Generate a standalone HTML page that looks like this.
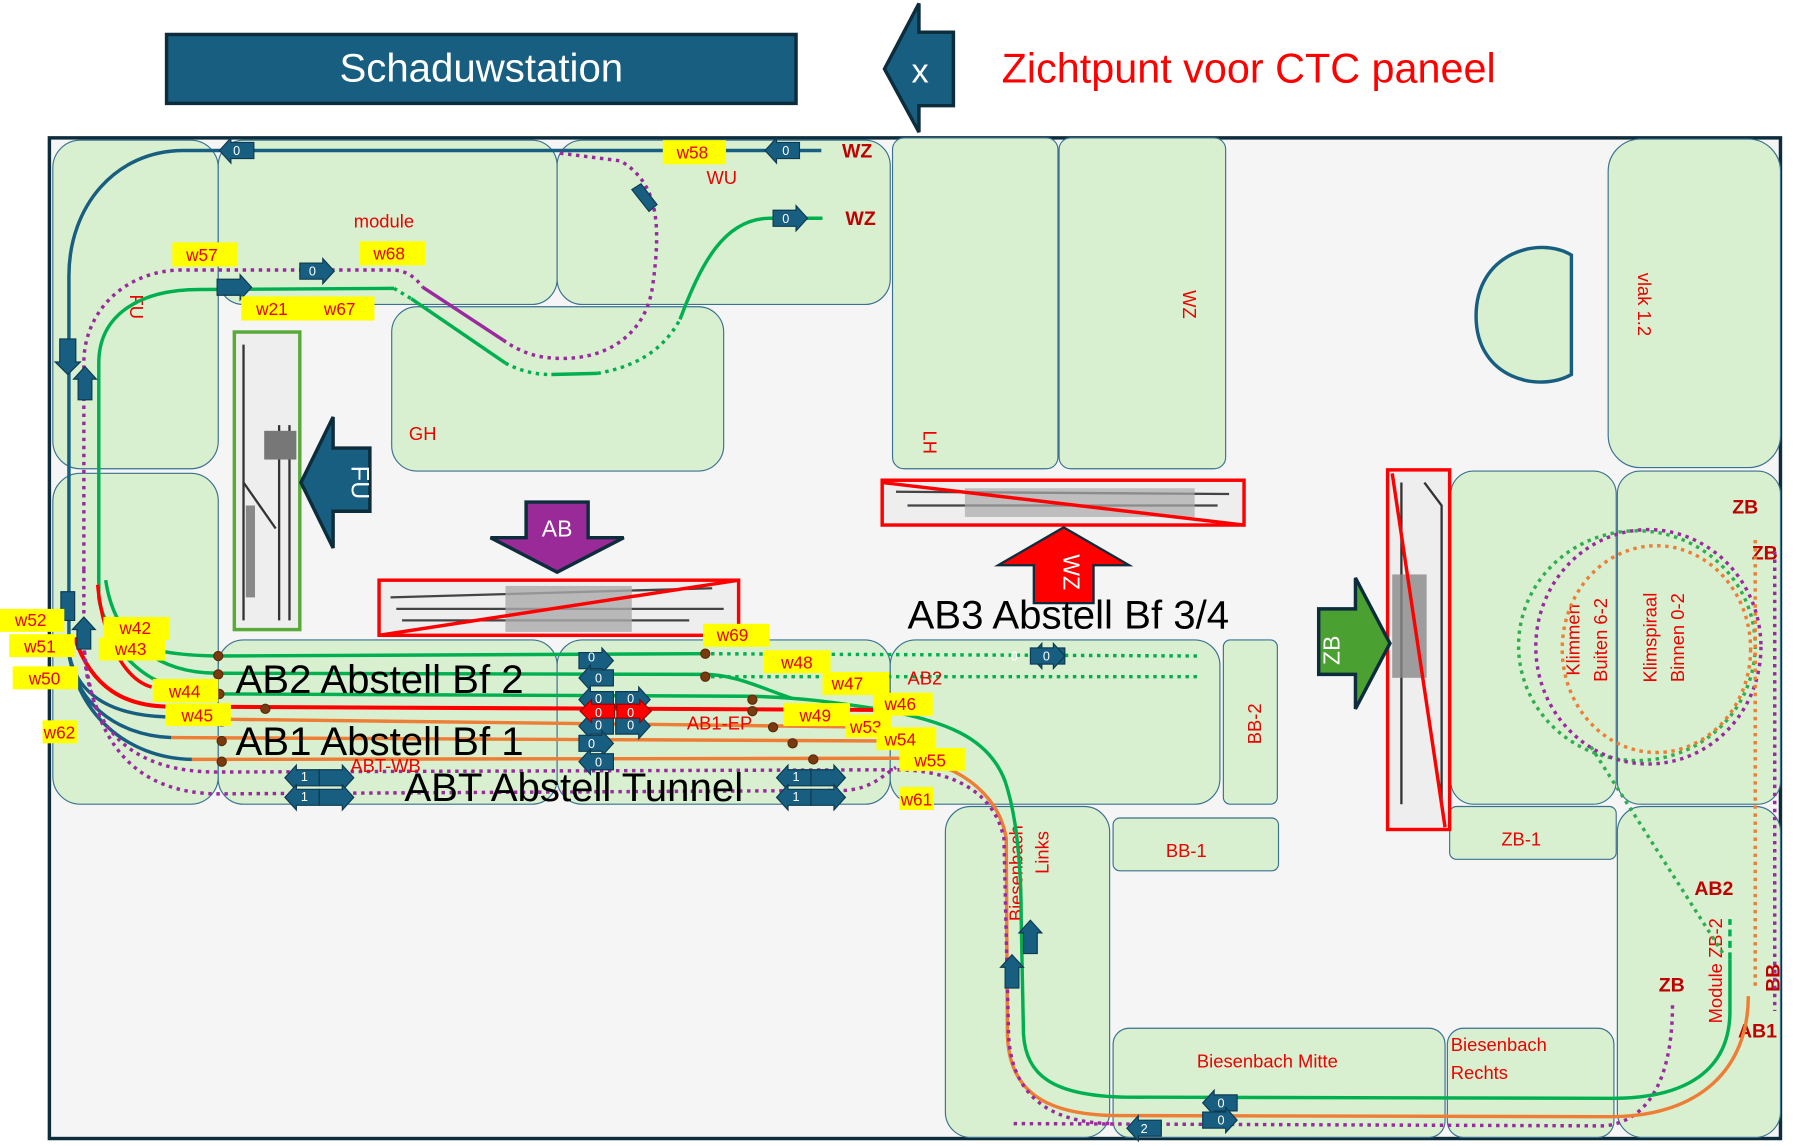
<!DOCTYPE html>
<html><head><meta charset="utf-8"><style>
html,body{margin:0;padding:0;background:#fff;}
svg{display:block;font-family:"Liberation Sans","DejaVu Sans",sans-serif;}
.m{fill:#d9f0d0;stroke:#3a7090;stroke-width:1;}
.r{fill:#e00;font-size:16px;}
.y{fill:#ffff00;}
.yt{fill:#e00;font-size:15px;}
.dot{fill:#7a3a10;stroke:#5a2a08;stroke-width:1;}
.ab{fill:#175e80;stroke:#0d3a50;stroke-width:1;}
.at{fill:#fff;font-size:11px;text-anchor:middle;}
</style></head><body>
<svg width="1800" height="1146" viewBox="0 0 1567 997.5" preserveAspectRatio="none" xmlns="http://www.w3.org/2000/svg">
<defs>
<symbol id="ar" viewBox="-1 -12 32 24" overflow="visible"><polygon points="0,-7 20,-7 20,-11 30,0 20,11 20,7 0,7"/></symbol>
</defs>
<rect width="1567" height="998" fill="#fff"/>
<!-- header -->
<rect x="145" y="30" width="548" height="60" fill="#175e80" stroke="#0d2c3c" stroke-width="3"/>
<text x="419" y="71" fill="#fff" font-size="35" text-anchor="middle">Schaduwstation</text>
<polygon points="770,60 800,3 800,28 830,28 830,92 800,92 800,115" fill="#175e80" stroke="#0d2c3c" stroke-width="3"/>
<text x="801" y="72" fill="#fff" font-size="30" text-anchor="middle">x</text>
<text x="872" y="72" fill="#f00" font-size="36">Zichtpunt voor CTC paneel</text>
<!-- frame -->
<rect x="43" y="120" width="1507" height="871" fill="#f5f5f5" stroke="#0d2c3c" stroke-width="3"/>
<!-- modules -->
<rect class="m" x="46" y="122" width="144" height="286" rx="24"/>
<rect class="m" x="46" y="412" width="144" height="288" rx="24"/>
<rect class="m" x="190" y="122" width="295" height="143" rx="22"/>
<rect class="m" x="485" y="122" width="290" height="143" rx="22"/>
<rect class="m" x="341" y="267" width="289" height="143" rx="22"/>
<rect class="m" x="777" y="120" width="144" height="288" rx="10"/>
<rect class="m" x="922" y="120" width="145" height="288" rx="10"/>
<rect class="m" x="1400" y="121" width="150" height="286" rx="28" stroke="#175e80" stroke-width="3"/>
<path d="M1368,222 C1340,205 1285,220 1285,275 C1285,330 1340,342 1368,326 Z" fill="#d9f0d0" stroke="#175e80" stroke-width="3"/>
<rect class="m" x="1263" y="410" width="144" height="290" rx="20"/>
<rect class="m" x="1408" y="410" width="142" height="290" rx="20"/>
<rect class="m" x="190" y="557" width="295" height="143" rx="22"/>
<rect class="m" x="485" y="557" width="290" height="143" rx="22"/>
<rect class="m" x="775" y="557" width="287" height="143" rx="22"/>
<rect class="m" x="1065" y="557" width="47" height="143" rx="6"/>
<rect class="m" x="823" y="702" width="143" height="288" rx="22"/>
<rect class="m" x="969" y="712" width="144" height="46" rx="6"/>
<rect class="m" x="1262" y="702" width="145" height="46" rx="6"/>
<rect class="m" x="969" y="895" width="289" height="95" rx="14"/>
<rect class="m" x="1260" y="895" width="145" height="95" rx="14"/>
<rect class="m" x="1408" y="702" width="142" height="288" rx="22"/>
<!-- module labels -->
<text class="r" x="308" y="198">module</text>
<text class="r" x="615" y="160">WU</text>
<text class="r" x="356" y="383">GH</text>
<text class="r" x="113" y="267" transform="rotate(90 113 267)" text-anchor="middle">FU</text>
<text class="r" x="804" y="385" transform="rotate(90 804 385)" text-anchor="middle">LH</text>
<text class="r" x="1030" y="265" transform="rotate(90 1030 265)" text-anchor="middle">WZ</text>
<text class="r" x="1426" y="265" transform="rotate(90 1426 265)" text-anchor="middle">vlak 1.2</text>
<text class="r" x="1098" y="630" transform="rotate(-90 1098 630)" text-anchor="middle">BB-2</text>
<text class="r" x="1015" y="746">BB-1</text>
<text class="r" x="1307" y="736">ZB-1</text>
<text class="r" x="1042" y="929">Biesenbach Mitte</text>
<text class="r" x="1263" y="915">Biesenbach</text>
<text class="r" x="1263" y="939">Rechts</text>
<text class="r" x="890" y="760" transform="rotate(-90 890 760)" text-anchor="middle">Biesenbach</text>
<text class="r" x="913" y="742" transform="rotate(-90 913 742)" text-anchor="middle">Links</text>
<text class="r" x="1375" y="557" transform="rotate(-90 1375 557)" text-anchor="middle">Klimmen</text>
<text class="r" x="1399" y="557" transform="rotate(-90 1399 557)" text-anchor="middle">Buiten 6-2</text>
<text class="r" x="1442" y="555" transform="rotate(-90 1442 555)" text-anchor="middle">Klimspiraal</text>
<text class="r" x="1466" y="555" transform="rotate(-90 1466 555)" text-anchor="middle">Binnen 0-2</text>
<text class="r" x="1499" y="845" transform="rotate(-90 1499 845)" text-anchor="middle">Module ZB-2</text>
<g fill="#c00000" font-weight="bold" font-size="17">
<text x="733" y="137">WZ</text><text x="736" y="196">WZ</text>
<text x="1508" y="447">ZB</text><text x="1525" y="487">ZB</text>
<text x="1475" y="779">AB2</text><text x="1444" y="863">ZB</text><text x="1513" y="903">AB1</text>
<text x="1549" y="851" transform="rotate(-90 1549 851)" text-anchor="middle">BB</text>
</g>
<!-- right circles -->
<g fill="none" stroke-width="3" stroke-dasharray="3 4">
<ellipse cx="1425" cy="562" rx="103" ry="100" stroke="#2fae50"/>
<ellipse cx="1435" cy="563" rx="98" ry="102" stroke="#9a2aa0"/>
<ellipse cx="1442" cy="565" rx="82" ry="90" stroke="#ee7d35"/>
<path d="M1385,650 L1500,830" stroke="#2fae50"/>
<path d="M1545,480 L1545,880" stroke="#9a2aa0"/>
<path d="M1528,470 L1528,860" stroke="#ee7d35"/>
<path d="M1456,875 C1456,930 1440,975 1397,980 L880,978" stroke="#9a2aa0"/>
</g>
<!-- top tracks -->
<g fill="none" stroke-width="3">
<path d="M715,131 L160,131 C100,131 60,180 60,240 L60,560" stroke="#175e80"/>
<path d="M86,505 L86,316 C86,275 120,252 174,252 L343,251" stroke="#00b050"/>
<path d="M358,260 L440,316" stroke="#00b050"/>
<path d="M480,326 L520,325" stroke="#00b050"/>
<path d="M592,278 C610,230 630,191 669,190 L716,190" stroke="#00b050"/>
<path d="M343,251 L358,260 M440,316 C455,324 468,326 480,326 M520,325 C560,318 580,300 592,278" stroke="#00b050" stroke-dasharray="3 4"/>
<path d="M73,496 L73,316 C73,270 110,235 159,235 L343,235 C355,236 362,242 368,250" stroke="#9a2aa0" stroke-dasharray="3 4"/>
<path d="M368,250 L438,296" stroke="#9a2aa0"/>
<path d="M438,296 C455,308 470,312 490,312 C530,312 562,290 568,250 C575,200 575,160 540,140 L485,133" stroke="#9a2aa0" stroke-dasharray="3 4"/>
</g>
<!-- lower bundle -->
<g fill="none" stroke-width="3">
<path d="M86,487 L86,520 C90,555 120,570 189,571 L612,569" stroke="#00b050"/>
<path d="M612,569 L1045,571 M612,589 L1045,589" stroke="#00b050" stroke-dasharray="3 4"/>
<path d="M92,505 C100,560 140,586 189,586 L612,587 C640,587 660,598 690,608" stroke="#00b050"/>
<path d="M86,520 C95,570 130,604 190,604 L652,606 C700,607 730,612 770,618 C820,628 860,640 875,680 C885,710 889,750 889,800 L891,900 C893,935 915,954 980,955 L1400,956 C1470,957 1506,930 1506,880 L1506,835" stroke="#00b050"/>
<path d="M1506,835 L1506,800" stroke="#00b050" stroke-dasharray="6 4"/>
<path d="M65,555 C80,600 110,614 144,615 L776,618" stroke="#f00" stroke-width="3.5"/>
<path d="M85,509 C90,560 110,592 132,598" stroke="#f00"/>
<path d="M193,626 L770,633" stroke="#ee7d35"/>
<path d="M149,642 L780,645" stroke="#ee7d35"/>
<path d="M167,661 L780,660 C830,660 870,690 876,730 L877,900 C878,950 910,970 970,971 L1402,972 C1480,972 1522,930 1522,867" stroke="#ee7d35"/>
<path d="M59,560 C62,600 90,622 144,624 M59,560 C62,610 100,640 149,642 M59,560 C64,620 110,660 167,661" stroke="#175e80"/>
<path d="M73,496 L73,560 C75,640 120,672 189,672 L780,670 C830,670 866,690 874,730 L878,900 C880,950 910,978 970,978" stroke="#9a2aa0" stroke-dasharray="3 4"/>
<path d="M73,560 C80,650 120,690 189,691 L736,688 C760,686 768,675 780,668" stroke="#9a2aa0" stroke-dasharray="3 4"/>
</g>
<g class="dot">
<circle cx="190" cy="571" r="4"/><circle cx="190" cy="587" r="4"/><circle cx="191" cy="604" r="4"/><circle cx="231" cy="617" r="4"/><circle cx="193" cy="628" r="4"/><circle cx="193" cy="645" r="4"/><circle cx="193" cy="663" r="4"/>
<circle cx="614" cy="569" r="4"/><circle cx="614" cy="589" r="4"/><circle cx="655" cy="609" r="4"/><circle cx="655" cy="619" r="4"/><circle cx="673" cy="633" r="4"/><circle cx="690" cy="647" r="4"/><circle cx="708" cy="661" r="4"/>
</g>
<!-- thumbnails -->
<g>
<rect x="204" y="289" width="57" height="259" fill="#eee" stroke="#5aaa3a" stroke-width="3"/>
<path d="M212,300 L212,540 M243,370 L243,540 M252,370 L252,540 M212,420 L240,460" stroke="#333" stroke-width="2" fill="none"/>
<rect x="230" y="375" width="28" height="25" fill="#777"/><rect x="214" y="440" width="8" height="80" fill="#888"/>
<rect x="330" y="505" width="313" height="48" fill="#eee" stroke="#f00" stroke-width="3"/>
<path d="M340,520 L620,512 M345,530 L630,530 M350,540 L600,540" stroke="#444" stroke-width="2" fill="none"/>
<rect x="440" y="510" width="110" height="40" fill="#aaa" opacity="0.8"/>
<path d="M330,553 L643,505" stroke="#f00" stroke-width="3"/>
<rect x="768" y="418" width="315" height="39" fill="#eee" stroke="#f00" stroke-width="3"/>
<path d="M780,428 L1070,430 M790,440 L1060,440" stroke="#444" stroke-width="2" fill="none"/>
<rect x="840" y="425" width="200" height="25" fill="#aaa" opacity="0.7"/>
<path d="M768,420 L1083,457" stroke="#f00" stroke-width="3"/>
<rect x="1208" y="409" width="54" height="313" fill="#eee" stroke="#f00" stroke-width="3"/>
<path d="M1220,420 L1220,700 M1240,420 L1255,440 L1255,700" stroke="#333" stroke-width="2" fill="none"/>
<rect x="1212" y="500" width="30" height="90" fill="#888" opacity="0.8"/>
<path d="M1212,412 L1258,720" stroke="#f00" stroke-width="3"/>
</g>
<!-- big arrows -->
<polygon points="262,420 290,363 290,390 322,390 322,445 290,445 290,477" fill="#175e80" stroke="#0d2c3c" stroke-width="3"/>
<text x="306" y="420" fill="#fff" font-size="22" text-anchor="middle" transform="rotate(90 306 420)">FU</text>
<polygon points="458,437 512,437 512,468 543,468 485,498 427,468 458,468" fill="#9a2a98" stroke="#0d2c3c" stroke-width="3"/>
<text x="485" y="467" fill="#fff" font-size="20" text-anchor="middle">AB</text>
<polygon points="926,459 983,492 952,492 952,525 900,525 900,492 869,492" fill="#f00" stroke="#0d2c3c" stroke-width="2"/>
<text x="926" y="498" fill="#fff" font-size="20" text-anchor="middle" transform="rotate(90 926 498)">WZ</text>
<polygon points="1210,560 1180,503 1180,530 1148,530 1148,587 1180,587 1180,617" fill="#4aa030" stroke="#0d2c3c" stroke-width="3"/>
<text x="1172" y="560" fill="#fff" font-size="20" text-anchor="middle" transform="rotate(-90 1172 566)">ZB</text>
<!-- station names -->
<g fill="#000">
<text x="205" y="603" font-size="35">AB2 Abstell Bf 2</text>
<text x="205" y="657" font-size="35">AB1 Abstell Bf 1</text>
<text x="352" y="697" font-size="35">ABT Abstell Tunnel</text>
<text x="790" y="547" font-size="35">AB3 Abstell Bf 3/4</text>
</g>
<text class="r" x="305" y="672" font-size="15">ABT-WB</text>
<text class="r" x="598" y="635">AB1-EP</text>
<text class="r" x="790" y="596">AB2</text>
<!-- small arrows -->
<g class="ab">
<use href="#ar" x="503" y="563" width="32" height="24"/>
<use href="#ar" x="503" y="578" width="32" height="24" transform="translate(1038 0) scale(-1 1)"/>
<use href="#ar" x="503" y="597" width="32" height="24" transform="translate(1038 0) scale(-1 1)"/>
<use href="#ar" x="535" y="597" width="32" height="24"/>
<use href="#ar" x="503" y="620" width="32" height="24" transform="translate(1038 0) scale(-1 1)"/>
<use href="#ar" x="535" y="620" width="32" height="24"/>
<use href="#ar" x="503" y="635" width="32" height="24"/>
<use href="#ar" x="503" y="651" width="32" height="24" transform="translate(1038 0) scale(-1 1)"/>
<use href="#ar" x="190" y="119" width="32" height="24" transform="translate(412 0) scale(-1 1)"/>
<use href="#ar" x="665" y="119" width="32" height="24" transform="translate(1362 0) scale(-1 1)"/>
<use href="#ar" x="672" y="178" width="32" height="24"/>
<use href="#ar" x="260" y="224" width="32" height="24"/>
<use href="#ar" x="188" y="238" width="32" height="24"/>
<use href="#ar" x="866" y="559" width="32" height="24" transform="translate(1794 0) scale(-1 1)"/>
<use href="#ar" x="896" y="559" width="32" height="24"/>
<use href="#ar" x="1046" y="948" width="32" height="24" transform="translate(2124 0) scale(-1 1)"/>
<use href="#ar" x="1046" y="963" width="32" height="24"/>
<use href="#ar" x="980" y="970" width="32" height="24" transform="translate(1992 0) scale(-1 1)"/>
<use href="#ar" x="247" y="665" width="32" height="24" transform="translate(526 0) scale(-1 1)"/>
<use href="#ar" x="277" y="665" width="32" height="24"/>
<use href="#ar" x="247" y="682" width="32" height="24" transform="translate(526 0) scale(-1 1)"/>
<use href="#ar" x="277" y="682" width="32" height="24"/>
<use href="#ar" x="675" y="665" width="32" height="24" transform="translate(1382 0) scale(-1 1)"/>
<use href="#ar" x="705" y="665" width="32" height="24"/>
<use href="#ar" x="675" y="682" width="32" height="24" transform="translate(1382 0) scale(-1 1)"/>
<use href="#ar" x="705" y="682" width="32" height="24"/>
<polygon points="52,295 66,295 66,315 70,315 59,326 48,315 52,315"/>
<polygon points="68,348 80,348 80,330 84,330 74,319 64,330 68,330"/>
<polygon points="53,515 65,515 65,540 53,540"/>
<polygon points="67,565 79,565 79,548 83,548 73,537 63,548 67,548"/>
<polygon points="891,830 903,830 903,812 907,812 897,801 887,812 891,812"/>
<polygon points="875,860 887,860 887,842 891,842 881,831 871,842 875,842"/>
<polygon points="550,165 558,160 572,178 565,184"/>
</g>
<g fill="#f00" stroke="#900"><polygon points="535,613 515,613 515,609 505,619 515,629 515,625 535,625"/><polygon points="537,613 557,613 557,609 567,619 557,629 557,625 537,625"/></g>
<g class="at">
<text x="515" y="576">0</text><text x="521" y="594">0</text><text x="521" y="612">0</text><text x="549" y="612">0</text>
<text x="521" y="624">0</text><text x="549" y="624">0</text><text x="521" y="635">0</text><text x="549" y="635">0</text>
<text x="515" y="651">0</text><text x="521" y="667">0</text>
<text x="206" y="135">0</text><text x="684" y="135">0</text><text x="684" y="194">0</text><text x="272" y="240">0</text>
<text x="883" y="575">0</text><text x="911" y="575">0</text>
<text x="265" y="680">1</text><text x="265" y="697">1</text><text x="693" y="680">1</text><text x="693" y="697">1</text>
<text x="996" y="986">2</text><text x="1063" y="964">0</text><text x="1063" y="979">0</text>
</g>
<!-- yellow labels -->
<g>
<rect class="y" x="577" y="122" width="55" height="21"/><text class="yt" x="589" y="138">w58</text>
<rect class="y" x="150" y="211" width="57" height="21"/><text class="yt" x="162" y="227">w57</text>
<rect class="y" x="313" y="210" width="57" height="21"/><text class="yt" x="325" y="226">w68</text>
<rect class="y" x="210" y="258" width="116" height="21"/><text class="yt" x="223" y="274">w21</text><text class="yt" x="282" y="274">w67</text>
<rect class="y" x="0" y="530" width="56" height="20"/><text class="yt" x="13" y="545">w52</text>
<rect class="y" x="8" y="552" width="57" height="20"/><text class="yt" x="21" y="568">w51</text>
<rect class="y" x="11" y="580" width="57" height="20"/><text class="yt" x="25" y="596">w50</text>
<rect class="y" x="37" y="627" width="30" height="20"/><text class="yt" x="38" y="643">w62</text>
<rect class="y" x="90" y="537" width="58" height="20"/><text class="yt" x="104" y="552">w42</text>
<rect class="y" x="86" y="555" width="58" height="20"/><text class="yt" x="100" y="570">w43</text>
<rect class="y" x="133" y="591" width="57" height="20"/><text class="yt" x="147" y="607">w44</text>
<rect class="y" x="144" y="612" width="57" height="20"/><text class="yt" x="158" y="628">w45</text>
<rect class="y" x="612" y="543" width="58" height="20"/><text class="yt" x="624" y="558">w69</text>
<rect class="y" x="665" y="566" width="58" height="20"/><text class="yt" x="680" y="582">w48</text>
<rect class="y" x="716" y="585" width="58" height="20"/><text class="yt" x="724" y="600">w47</text>
<rect class="y" x="760" y="603" width="52" height="20"/><text class="yt" x="770" y="618">w46</text>
<rect class="y" x="682" y="612" width="58" height="20"/><text class="yt" x="696" y="628">w49</text>
<rect class="y" x="736" y="622" width="40" height="20"/><text class="yt" x="740" y="638">w53</text>
<rect class="y" x="763" y="633" width="52" height="20"/><text class="yt" x="770" y="649">w54</text>
<rect class="y" x="783" y="651" width="57" height="20"/><text class="yt" x="796" y="667">w55</text>
<rect class="y" x="783" y="685" width="30" height="20"/><text class="yt" x="784" y="701">w61</text>
</g>
</svg>
</body></html>
